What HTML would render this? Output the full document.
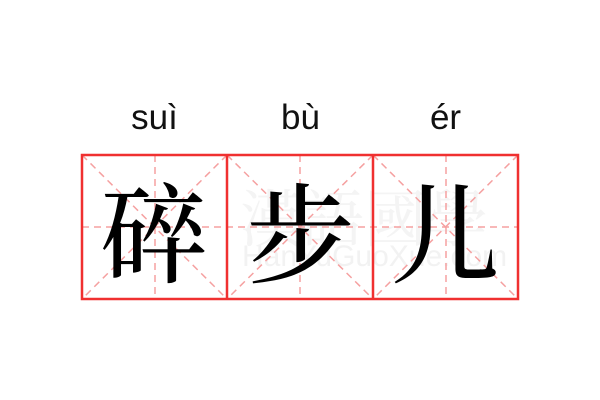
<!DOCTYPE html><html><head><meta charset="utf-8"><style>
body{margin:0;width:600px;height:400px;background:#fff;position:relative;overflow:hidden;font-family:"Liberation Sans","Noto Sans CJK SC",sans-serif}
.py{position:absolute;top:98px;font-size:35px;color:#111;width:145px;text-align:center}
.ch{position:absolute;top:168px;width:145px;text-align:center;font-size:108px;line-height:120px;font-family:"Noto Serif CJK SC",serif;font-weight:500;color:#000}
.wm{position:absolute;color:#f4f4f4;font-family:"Liberation Sans",sans-serif}
</style></head><body>
<div class="py" style="left:82px">suì</div>
<div class="py" style="left:228px">bù</div>
<div class="py" style="left:373px">ér</div>
<div class="wm" style="left:240px;top:170px;font-size:62px;font-family:'Noto Serif CJK TC',serif">漢語國學</div>
<div class="wm" style="left:242px;top:240px;font-size:30px;color:#f2f2f2">HanYuGuoXue.com</div>
<svg width="600" height="400" style="position:absolute;left:0;top:0">
<g stroke="#f5a0a0" stroke-width="1.5" stroke-dasharray="7,5" fill="none">
<line x1="82" y1="227" x2="518" y2="227"/>
<line x1="155" y1="155" x2="155" y2="299"/><line x1="300" y1="155" x2="300" y2="299"/><line x1="446" y1="155" x2="446" y2="299"/>
<line x1="82" y1="155" x2="227" y2="299"/><line x1="227" y1="155" x2="82" y2="299"/>
<line x1="227" y1="155" x2="373" y2="299"/><line x1="373" y1="155" x2="227" y2="299"/>
<line x1="373" y1="155" x2="518" y2="299"/><line x1="518" y1="155" x2="373" y2="299"/>
</g>
<g stroke="#f03030" stroke-width="2.5" fill="none">
<rect x="82" y="155" width="436" height="144"/>
<line x1="227" y1="155" x2="227" y2="299"/><line x1="373" y1="155" x2="373" y2="299"/>
</g></svg>
<div class="ch" style="left:82px">碎</div>
<div class="ch" style="left:228px">步</div>
<div class="ch" style="left:373px">儿</div>
</body></html>
